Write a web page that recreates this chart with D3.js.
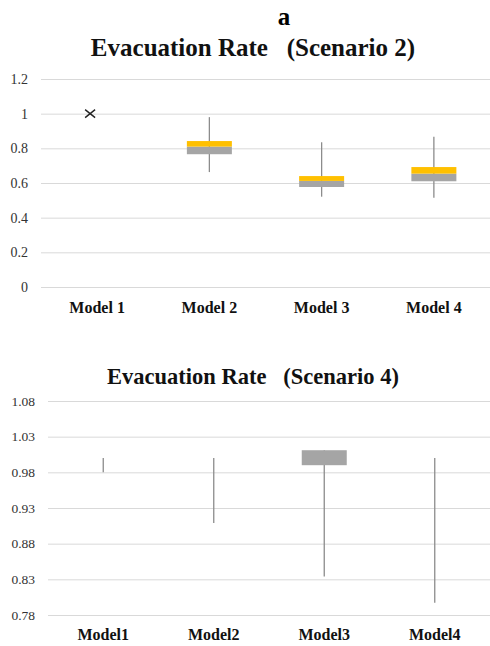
<!DOCTYPE html>
<html>
<head>
<meta charset="utf-8">
<script src="https://cdn.jsdelivr.net/npm/d3@7"></script>
<style>
  body { margin: 0; background: #fff; }
  text { font-family: "Liberation Serif", "Times New Roman", serif; }
</style>
</head>
<body>
<div id="chart"></div>
<script>
// Scenario 2
const models2 = ["Model 1", "Model 2", "Model 3", "Model 4"];
const min2 = [1, 0.663, 0.521, 0.515];
const q1s2 = [1, 0.766, 0.577, 0.61];
const med2 = [1, 0.81, 0.612, 0.654];
const q3s2 = [1, 0.842, 0.64, 0.692];
const max2 = [1, 0.98, 0.835, 0.867];
const marks2 = [1, null, null, null];
const ticks2 = [0, 0.2, 0.4, 0.6, 0.8, 1, 1.2];

// Scenario 4
const models4 = ["Model1", "Model2", "Model3", "Model4"];
const min4 = [0.98, 0.909, 0.834, 0.797];
const q1s4 = [1, 1, 0.99, 1];
const med4 = [1, 1, 1.011, 1];
const q3s4 = [1, 1, 1.011, 1];
const max4 = [1, 1, 1.011, 1];
const marks4 = [null, null, null, null];
const ticks4 = [0.78, 0.83, 0.88, 0.93, 0.98, 1.03, 1.08];

const W = 490, H = 646;
const svg = d3.select("#chart").append("svg")
    .attr("width", W)
    .attr("height", H);

svg.append("rect").attr("width", W).attr("height", H).attr("fill", "#fff");

svg.append("text")
    .attr("x", 284).attr("y", 25)
    .attr("text-anchor", "middle")
    .attr("font-size", 25)
    .attr("font-weight", "bold")
    .text("a");

function boxChart(opt) {
    const x = d3.scaleBand()
        .domain(opt.models)
        .range([opt.left, W]);

    const y = d3.scaleLinear()
        .domain(d3.extent(opt.ticks))
        .range([opt.bottom, opt.top]);

    const g = svg.append("g");

    g.append("text")
        .attr("x", 253).attr("y", opt.titleY)
        .attr("text-anchor", "middle")
        .attr("font-size", opt.titleSize)
        .attr("font-weight", "bold")
        .attr("fill", "#111")
        .style("white-space", "pre")
        .text(opt.title);

    // gridlines + tick labels
    const yAxis = g.append("g")
        .attr("transform", `translate(${opt.left},0)`)
        .call(d3.axisLeft(y).tickValues(opt.ticks).tickSize(-(W - opt.left)).tickPadding(13)
            .tickFormat(d => opt.fmt(d)));
    yAxis.select(".domain").remove();
    yAxis.selectAll("line").attr("stroke", "#d9d9d9").attr("stroke-width", 1);
    yAxis.selectAll("text")
        .attr("font-size", opt.tickSize)
        .attr("fill", "#333")
        .style("font-family", "'Liberation Serif', serif");

    // x labels
    const xAxis = g.append("g")
        .attr("transform", `translate(0,${opt.bottom})`)
        .call(d3.axisBottom(x).tickSize(0).tickPadding(opt.labelPad));
    xAxis.select(".domain").remove();
    xAxis.selectAll("text")
        .attr("font-size", 16)
        .attr("font-weight", "bold")
        .attr("fill", "#111")
        .style("font-family", "'Liberation Serif', serif");

    const bw = opt.boxW;
    opt.models.forEach((m, i) => {
        const cx = x(m) + x.bandwidth() / 2;
        if (opt.max[i] > opt.min[i]) {
            g.append("line")
                .attr("x1", cx).attr("x2", cx)
                .attr("y1", y(opt.min[i])).attr("y2", y(opt.max[i]))
                .attr("stroke", "#8c8c8c")
                .attr("stroke-width", 1.3);
        }
        if (opt.med[i] > opt.q1[i]) {
            g.append("rect")
                .attr("x", cx - bw / 2).attr("width", bw)
                .attr("y", y(opt.med[i]))
                .attr("height", y(opt.q1[i]) - y(opt.med[i]))
                .attr("fill", "#a5a5a5");
        }
        if (opt.q3[i] > opt.med[i]) {
            g.append("rect")
                .attr("x", cx - bw / 2).attr("width", bw)
                .attr("y", y(opt.q3[i]))
                .attr("height", y(opt.med[i]) - y(opt.q3[i]))
                .attr("fill", "#ffc000");
        }
        if (opt.marks[i] != null) {
            const my = y(opt.marks[i]), s = 5;
            const mx = cx - 7;
            g.append("path")
                .attr("d", `M${mx - s},${my - s * 0.8}L${mx + s},${my + s * 0.8}M${mx - s},${my + s * 0.8}L${mx + s},${my - s * 0.8}`)
                .attr("stroke", "#222")
                .attr("stroke-width", 1.4);
        }
    });
}

boxChart({
    models: models2, min: min2, q1: q1s2, med: med2, q3: q3s2, max: max2, marks: marks2,
    ticks: ticks2, fmt: d3.format("~g"), tickSize: 14,
    left: 41, top: 79, bottom: 287, boxW: 45,
    title: "Evacuation Rate   (Scenario 2)", titleY: 56, titleSize: 25, labelPad: 15
});

boxChart({
    models: models4, min: min4, q1: q1s4, med: med4, q3: q3s4, max: max4, marks: marks4,
    ticks: ticks4, fmt: d3.format(".2f"), tickSize: 13.5,
    left: 48, top: 401, bottom: 615, boxW: 45,
    title: "Evacuation Rate   (Scenario 4)", titleY: 384, titleSize: 22.5, labelPad: 14
});
</script>
</body>
</html>
